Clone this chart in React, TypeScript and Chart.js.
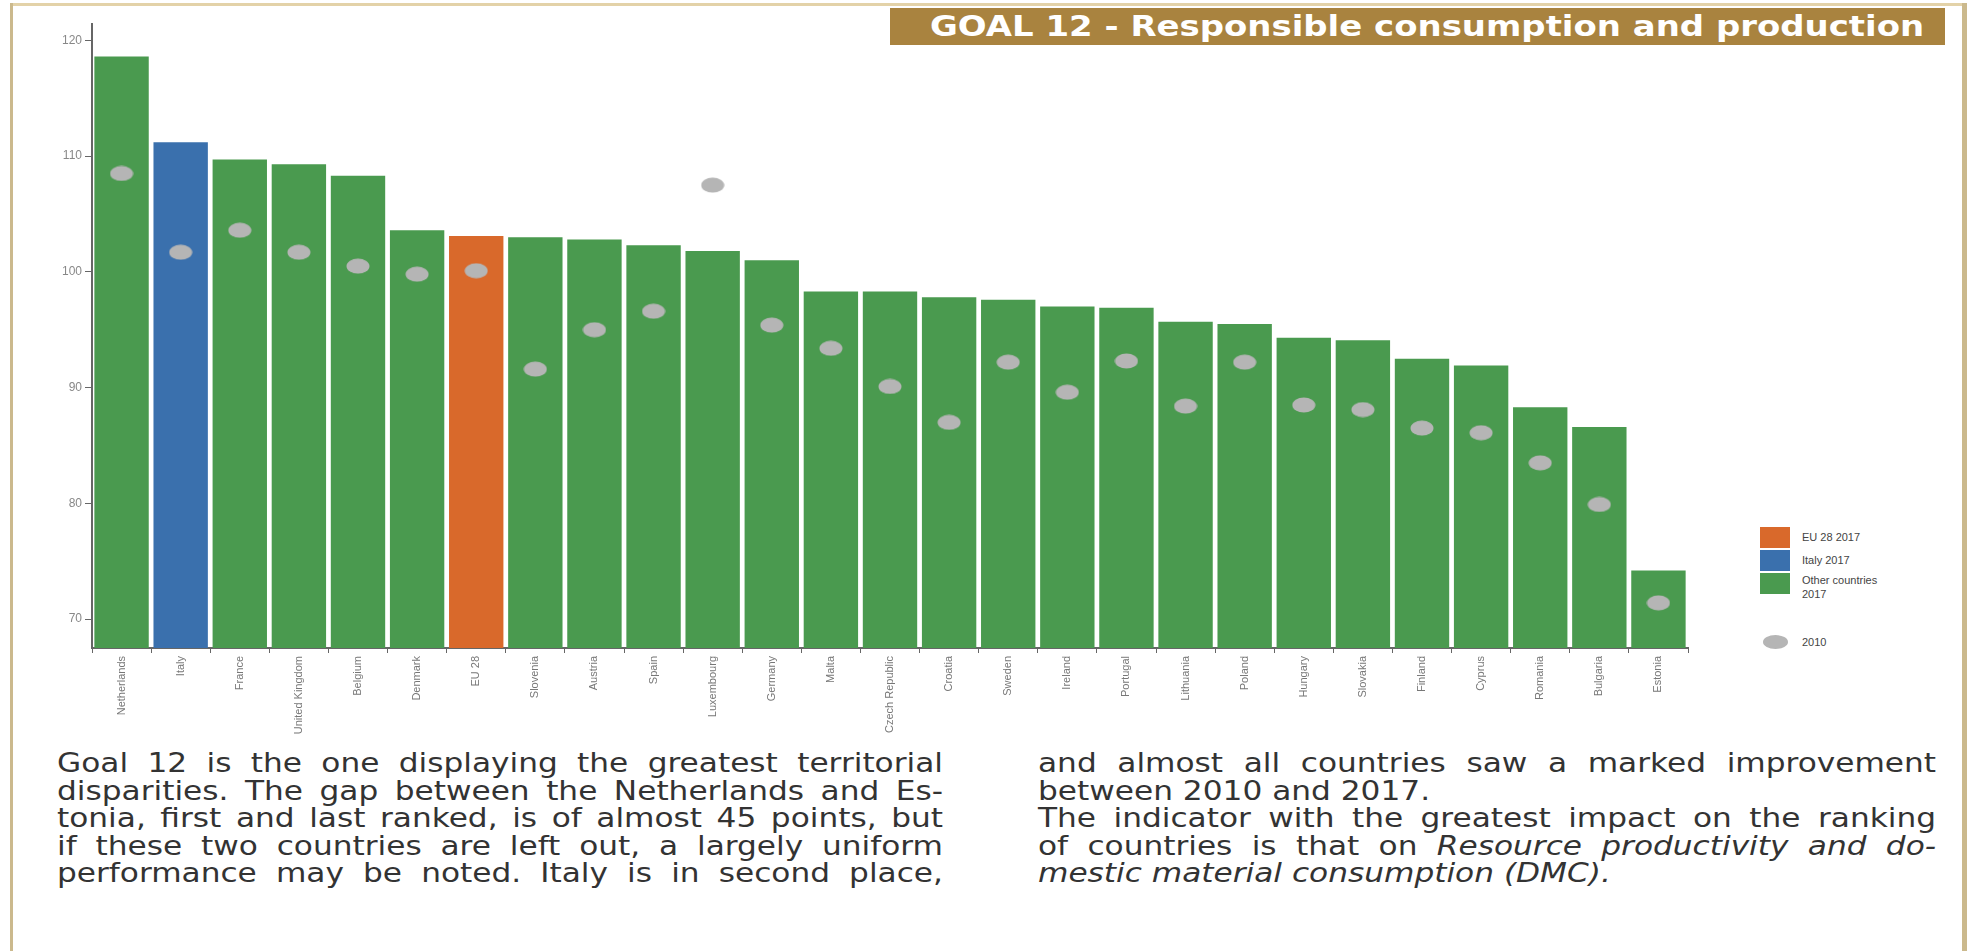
import React, { useEffect, useRef } from "react";
import { Chart, registerables } from "chart.js";

Chart.register(...registerables);

const countries = [
  "Netherlands", "Italy", "France", "United Kingdom", "Belgium", "Denmark", "EU 28",
  "Slovenia", "Austria", "Spain", "Luxembourg", "Germany", "Malta", "Czech Republic",
  "Croatia", "Sweden", "Ireland", "Portugal", "Lithuania", "Poland", "Hungary",
  "Slovakia", "Finland", "Cyprus", "Romania", "Bulgaria", "Estonia",
];
const values2017 = [
  118.6, 111.2, 109.7, 109.3, 108.3, 103.6, 103.1,
  103.0, 102.8, 102.3, 101.8, 101.0, 98.3, 98.3,
  97.8, 97.6, 97.0, 96.9, 95.7, 95.5, 94.3,
  94.1, 92.5, 91.9, 88.3, 86.6, 74.2,
];
const values2010 = [
  108.5, 101.7, 103.6, 101.7, 100.5, 99.8, 100.1,
  91.6, 95.0, 96.6, 107.5, 95.4, 93.4, 90.1,
  87.0, 92.2, 89.6, 92.3, 88.4, 92.2, 88.5,
  88.1, 86.5, 86.1, 83.5, 79.9, 71.4,
];
const groups = [
  "other", "italy", "other", "other", "other", "other", "eu",
  "other", "other", "other", "other", "other", "other", "other",
  "other", "other", "other", "other", "other", "other", "other",
  "other", "other", "other", "other", "other", "other",
];
const yTicks = [70, 80, 90, 100, 110, 120];

const GREEN = "#4a9a4f";
const BLUE = "#3a70ad";
const ORANGE = "#d9692b";
const DOT = "#b5b5b5";
const groupColor: Record<string, string> = { other: GREEN, italy: BLUE, eu: ORANGE };

function makeEllipse(): HTMLCanvasElement {
  const c = document.createElement("canvas");
  c.width = 24;
  c.height = 16;
  const ctx = c.getContext("2d")!;
  ctx.fillStyle = DOT;
  ctx.beginPath();
  ctx.ellipse(12, 8, 11.5, 7.5, 0, 0, Math.PI * 2);
  ctx.fill();
  return c;
}

export default function App() {
  const ref = useRef<HTMLCanvasElement>(null);
  useEffect(() => {
    const canvas = ref.current!;
    const ellipse = makeEllipse();
    const chart = new Chart(canvas, {
      type: "bar",
      data: {
        labels: countries,
        datasets: [
          {
            type: "line",
            label: "2010",
            data: values2010,
            showLine: false,
            pointStyle: ellipse as any,
            pointRadius: 8,
            order: 0,
          } as any,
          {
            type: "bar",
            label: "2017",
            data: values2017,
            backgroundColor: groups.map((g) => groupColor[g]),
            borderWidth: 0,
            barPercentage: 0.92,
            categoryPercentage: 1,
            order: 1,
          },
        ],
      },
      options: {
        animation: false,
        responsive: false,
        devicePixelRatio: 1,
        layout: { padding: { top: 8, right: 12, left: 0, bottom: 0 } },
        plugins: { legend: { display: false }, tooltip: { enabled: false } },
        scales: {
          x: {
            afterFit: (s: any) => { s.height = 92; },
            grid: { drawOnChartArea: false, drawTicks: true, tickLength: 5, color: "#666" },
            border: { display: true, color: "#666", width: 2 },
            ticks: {
              minRotation: 90,
              maxRotation: 90,
              autoSkip: false,
              padding: 3,
              color: "#777",
              font: { family: "Liberation Sans Narrow, Liberation Sans", size: 11 },
            },
          },
          y: {
            min: 67.5,
            max: 121.4,
            afterFit: (s: any) => { s.width = 72; },
            afterBuildTicks: (s: any) => { s.ticks = yTicks.map((v) => ({ value: v })); },
            grid: { drawOnChartArea: false, drawTicks: true, tickLength: 7, color: "#666" },
            border: { display: true, color: "#666", width: 2 },
            ticks: {
              padding: 3,
              color: "#888",
              font: { family: "Liberation Sans", size: 12 },
            },
          },
        },
      },
    });
    return () => chart.destroy();
  }, []);

  const SX = 1.2;
  const textStyle: React.CSSProperties = {
    fontFamily: "DejaVu Sans",
    fontSize: 26,
    lineHeight: "27.6px",
    color: "#333",
    whiteSpace: "nowrap",
    transform: `scaleX(${SX})`,
    transformOrigin: "0 0",
  };
  const J: React.CSSProperties = { textAlign: "justify", textAlignLast: "justify" };

  const legendItem = (color: string, top: number) => (
    <div style={{ position: "absolute", left: 1760, top, width: 30, height: 21, background: color }} />
  );
  const legendText = (text: React.ReactNode, top: number) => (
    <div style={{ position: "absolute", left: 1802, top, fontFamily: "Liberation Sans", fontSize: 11, color: "#444", lineHeight: "14px" }}>{text}</div>
  );

  return (
    <div style={{ position: "absolute", left: 0, top: 0, width: 1971, height: 951, background: "#fff", overflow: "hidden" }}>
      <div style={{ position: "absolute", left: 10, top: 3, width: 1956, height: 3, background: "#e3d2a8" }} />
      <div style={{ position: "absolute", left: 10, top: 3, width: 3, height: 948, background: "#cbb98d" }} />
      <div style={{ position: "absolute", left: 1962, top: 3, width: 5, height: 948, background: "#cbb98d" }} />
      <div
        style={{
          position: "absolute", left: 890, top: 8, width: 1055, height: 37, background: "#a9833f",
          overflow: "hidden",
        }}
      >
        <div
          style={{
            position: "absolute", left: 40, top: 0, color: "#fff", fontFamily: "DejaVu Sans", fontWeight: "bold",
            fontSize: 29, lineHeight: "37px", whiteSpace: "nowrap", transform: "scaleX(1.17)", transformOrigin: "0 0",
          }}
        >
          GOAL 12 - Responsible consumption and production
        </div>
      </div>
      <canvas ref={ref} width={1680} height={726} style={{ position: "absolute", left: 20, top: 14, width: 1680, height: 726 }} />
      {legendItem(ORANGE, 527)}
      {legendItem(BLUE, 550)}
      {legendItem(GREEN, 573)}
      {legendText("EU 28 2017", 530)}
      {legendText("Italy 2017", 553)}
      {legendText(<>Other countries<br />2017</>, 573)}
      <div style={{ position: "absolute", left: 1763, top: 635, width: 25, height: 14, borderRadius: "50%", background: DOT }} />
      {legendText("2010", 635)}

      <div style={{ ...textStyle, position: "absolute", left: 57, top: 750, width: 886 / SX }}>
        <div style={J}>Goal 12 is the one displaying the greatest territorial</div>
        <div style={J}>disparities. The gap between the Netherlands and Es-</div>
        <div style={J}>tonia, first and last ranked, is of almost 45 points, but</div>
        <div style={J}>if these two countries are left out, a largely uniform</div>
        <div style={J}>performance may be noted. Italy is in second place,</div>
      </div>
      <div style={{ ...textStyle, position: "absolute", left: 1038, top: 750, width: 898 / SX }}>
        <div style={J}>and almost all countries saw a marked improvement</div>
        <div>between 2010 and 2017.</div>
        <div style={J}>The indicator with the greatest impact on the ranking</div>
        <div style={J}>of countries is that on <i>Resource productivity and do-</i></div>
        <div><i>mestic material consumption (DMC).</i></div>
      </div>
    </div>
  );
}
